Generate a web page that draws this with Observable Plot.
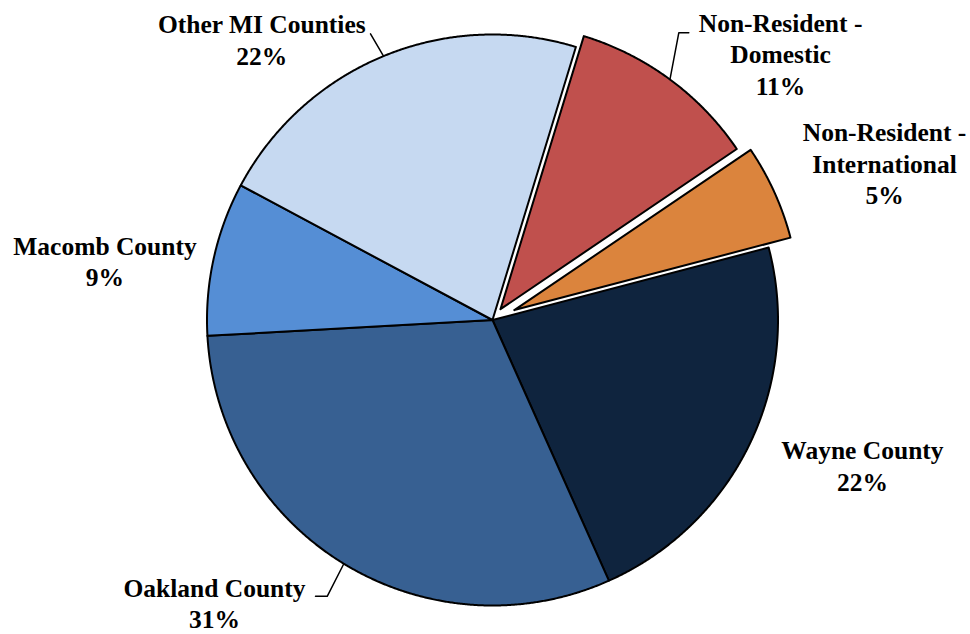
<!DOCTYPE html>
<html><head><meta charset="utf-8">
<script src="https://cdn.jsdelivr.net/npm/d3@7"></script>
<script src="https://cdn.jsdelivr.net/npm/@observablehq/plot@0.6"></script>
<style>html,body{margin:0;padding:0;background:#fff;} #chart{width:970px;height:634px;}</style>
</head><body><div id="chart"></div>
<script>
// ---- data ----
const categories = ["Wayne County", "Oakland County", "Macomb County", "Other MI Counties", "Non-Resident - Domestic", "Non-Resident - International"];
const shares = [22.4, 30.8, 8.7, 21.9, 10.8, 5.4];
const colors = ["#0F243E", "#376092", "#558ED5", "#C6D9F1", "#C0504D", "#DB843D"];

// ---- layout ----
const W = 970, H = 634;
const cx = 492, cy = 319.5, R = 285.5;          // pie centre & radius (px)
const firstSliceAngle = 75.3;                    // degrees clockwise from 12 o'clock
const explode = [0, 0, 0, 0, 0.047, 0.084];      // fraction of radius
const labelAngle = [111.8, 224.24, 278.3, 320.3, 47.5, 68.5];
const labelDist = [1.3956, 1.3958, 1.3717, 1.2652, 1.3685, 1.4758];
const leaderElbows = [[], [[-0.579, -0.968], [-0.62, -0.968]], [], [[-0.4273, 1.0025]], [[0.6525, 1.006], [0.6876, 1.006]], []];

const rad = Math.PI / 180;
const arcs = d3.pie().sort(null).value(d => d)
  .startAngle(firstSliceAngle * rad).endAngle(firstSliceAngle * rad + 2 * Math.PI)(shares);

const slicePts = [];
const leaderPts = [];
const labels = [];
arcs.forEach((a, i) => {
  const cat = categories[i];
  const mid = (a.startAngle + a.endAngle) / 2;
  const ox = explode[i] * Math.sin(mid), oy = explode[i] * Math.cos(mid);
  const n = Math.max(2, Math.ceil((a.endAngle - a.startAngle) / (Math.PI / 720)));
  slicePts.push({cat, x: ox, y: oy});
  for (let k = 0; k <= n; k++) {
    const t = a.startAngle + (a.endAngle - a.startAngle) * k / n;
    slicePts.push({cat, x: ox + Math.sin(t), y: oy + Math.cos(t)});
  }
  slicePts.push({cat, x: ox, y: oy});
  if (leaderElbows[i].length) {
    leaderPts.push({cat, x: ox + Math.sin(mid), y: oy + Math.cos(mid)});
    leaderElbows[i].forEach(([ex, ey]) => leaderPts.push({cat, x: ex, y: ey}));
  }
  const la = labelAngle[i] * rad;
  labels.push({
    x: labelDist[i] * Math.sin(la),
    y: labelDist[i] * Math.cos(la),
    text: cat.replace(" - ", " -\n") + "\n" + Math.round(a.value) + "%"
  });
});

const chart = Plot.plot({
  width: W, height: H, margin: 0,
  x: {domain: [-cx / R, (W - cx) / R], axis: null},
  y: {domain: [-(H - cy) / R, cy / R], axis: null},
  color: {domain: categories, range: colors},
  marks: [
    Plot.line(slicePts, {x: "x", y: "y", z: "cat", fill: "cat", stroke: "black", strokeWidth: 2, strokeLinejoin: "round"}),
    Plot.line(leaderPts, {x: "x", y: "y", z: "cat", stroke: "black", strokeWidth: 1.5}),
    Plot.text(labels, {x: "x", y: "y", dy: -3, text: "text", fontSize: 25.5, fontWeight: "bold", fontFamily: "Liberation Serif", lineHeight: 1.24, fill: "black"})
  ]
});
document.getElementById("chart").appendChild(chart);
</script>
</body></html>
